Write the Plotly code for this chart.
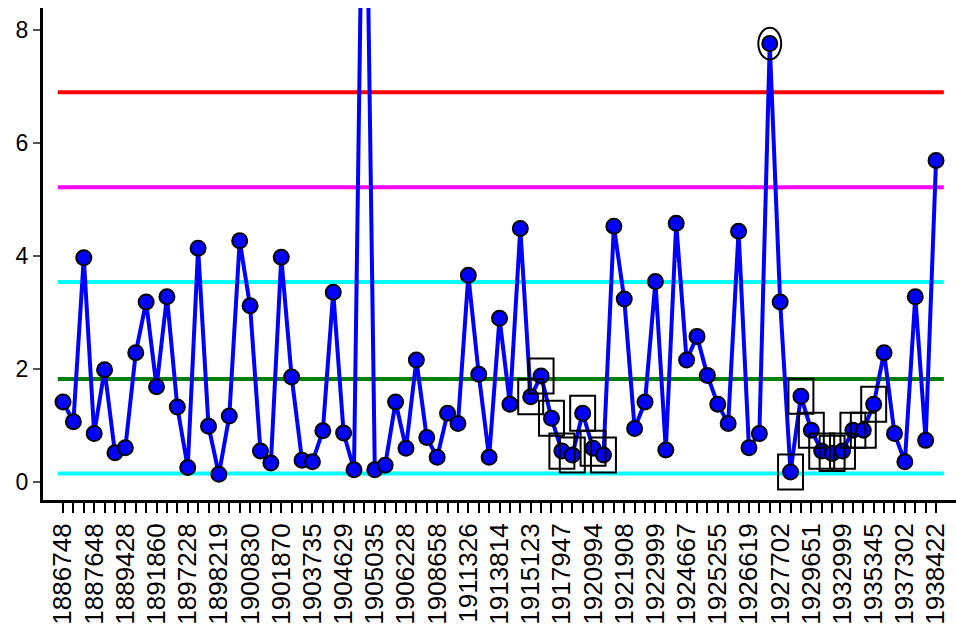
import plotly.graph_objects as go

# Values (85 samples)
values = [
    1.42, 1.07, 3.97, 0.86, 1.99, 0.52, 0.61, 2.29, 3.19, 1.69,
    3.28, 1.33, 0.26, 4.14, 0.99, 0.14, 1.17, 4.27, 3.12, 0.55,
    0.34, 3.98, 1.86, 0.39, 0.36, 0.91, 3.36, 0.87, 0.22, 13.5,
    0.22, 0.30, 1.42, 0.60, 2.16, 0.79, 0.44, 1.22, 1.04, 3.66,
    1.91, 0.44, 2.90, 1.38, 4.49, 1.51, 1.88, 1.13, 0.55, 0.48,
    1.22, 0.60, 0.48, 4.53, 3.24, 0.95, 1.42, 3.55, 0.57, 4.58,
    2.16, 2.58, 1.89, 1.38, 1.04, 4.44, 0.61, 0.86, 7.76, 3.19,
    0.18, 1.52, 0.92, 0.55, 0.51, 0.55, 0.92, 0.92, 1.38, 2.29,
    0.86, 0.36, 3.28, 0.74, 5.69,
]

# Tick labels shown (every third sample)
tick_labels = [
    "1886748", "1887648", "1889428", "1891860", "1897228", "1898219",
    "1900830", "1901870", "1903735", "1904629", "1905035", "1906228",
    "1908658", "1911326", "1913814", "1915123", "1917947", "1920994",
    "1921908", "1922999", "1924667", "1925255", "1926619", "1927702",
    "1929651", "1932999", "1935345", "1937302", "1938422",
]
label_step = 3

# Control limits
ucl = 6.90
upper_2s = 5.22
upper_1s = 3.54
center = 1.825
lower_1s = 0.152

limit_lines = [
    (ucl, "#ff0000"),
    (upper_2s, "#ff00ff"),
    (upper_1s, "#00ffff"),
    (center, "#008000"),
    (lower_1s, "#00ffff"),
]

# Flagged points
boxed_idx = list(range(45, 53)) + list(range(70, 79))
circled_idx = [68]

n = len(values)
xs = list(range(n))

fig = go.Figure()

x_ext = [-0.5, n - 0.25]
for yv, col in limit_lines:
    fig.add_trace(go.Scatter(
        x=x_ext, y=[yv, yv], mode="lines",
        line=dict(color=col, width=4), hoverinfo="skip", showlegend=False,
    ))

fig.add_trace(go.Scatter(
    x=xs, y=values, mode="lines+markers",
    line=dict(color="#0000ff", width=4),
    marker=dict(color="#0000ff", size=15, line=dict(color="black", width=2)),
    showlegend=False,
))

shapes = []
bw, bh = 1.2, 0.31
for i in boxed_idx:
    shapes.append(dict(type="rect", xref="x", yref="y",
                       x0=i - bw, x1=i + bw, y0=values[i] - bh, y1=values[i] + bh,
                       line=dict(color="black", width=2)))
cw, ch = 1.1, 0.28
for i in circled_idx:
    shapes.append(dict(type="circle", xref="x", yref="y",
                       x0=i - cw, x1=i + cw, y0=values[i] - ch, y1=values[i] + ch,
                       line=dict(color="black", width=2)))

ticktext = []
for i in range(n):
    if i % label_step == 0 and i // label_step < len(tick_labels):
        ticktext.append(tick_labels[i // label_step])
    else:
        ticktext.append("")

fig.update_layout(
    width=956, height=636,
    margin=dict(l=43, r=0, t=8, b=136),
    paper_bgcolor="white", plot_bgcolor="white",
    font=dict(family="Liberation Sans, Arial, sans-serif", color="black"),
    shapes=shapes,
    xaxis=dict(
        range=[-1.924, 85.92], automargin=False,
        tickmode="array", tickvals=xs, ticktext=ticktext,
        tickangle=-90, ticks="outside", ticklen=10, tickwidth=1.5, tickcolor="black",
        tickfont=dict(size=26),
        showline=True, linecolor="black", linewidth=3,
        showgrid=False, zeroline=False,
    ),
    yaxis=dict(
        range=[-0.315, 8.39], automargin=False,
        tickvals=[0, 2, 4, 6, 8],
        ticks="outside", ticklen=7, tickwidth=1.5, tickcolor="#555",
        tickfont=dict(size=23),
        showline=True, linecolor="black", linewidth=3,
        showgrid=False, zeroline=False,
    ),
)

fig.write_html(
    "out.html",
    config={"displayModeBar": False},
    post_script="document.body.style.margin='0px';document.body.style.overflow='hidden';",
)
